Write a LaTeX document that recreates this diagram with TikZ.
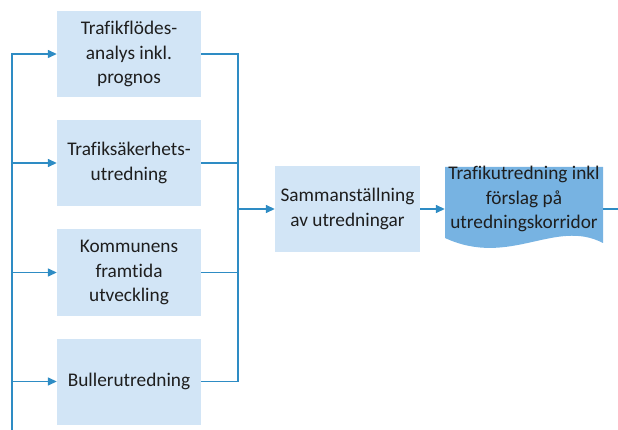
\documentclass[tikz,border=0pt]{standalone}
\usepackage{fontspec}
\setmainfont{Carlito}[Ligatures=NoCommon]
\usepackage{tikz}
\usetikzlibrary{arrows.meta,backgrounds}

\definecolor{boxblue}{HTML}{D2E5F6}
\definecolor{docblue}{HTML}{77B3E2}
\definecolor{lineblue}{HTML}{2E8CC4}
\definecolor{txtgray}{HTML}{1E1E1E}

\begin{document}
\begin{tikzpicture}[x=1pt,y=-1pt]
        \tikzstyle{every node}=[font=\fontsize{19.3}{24.8}\selectfont, text=txtgray, align=center]
        \tikzstyle{studybox}=[fill=boxblue, minimum width=144pt, minimum height=86pt, inner sep=2pt]
        \tikzstyle{flow}=[draw=lineblue, line width=1.4pt]
        \tikzstyle{flowarrow}=[flow, -{Triangle[length=9pt,width=8pt]}]

        \useasboundingbox (0,0) rectangle (618,430);

        \node   (trafik)   [studybox] at (129,54)    {Trafikflödes-\\analys inkl.\\prognos};
        \node   (sakerhet) [studybox] at (129,163)   {Trafiksäkerhets-\\utredning};
        \node   (kommun)   [studybox] at (129,272.5) {Kommunens\\framtida\\utveckling};
        \node   (buller)   [studybox] at (129,381.5) {Bullerutredning};
        \node   (samman)   [studybox, minimum width=145pt] at (347.5,209) {Sammanställning\\av utredningar};
        \node   (result)   [minimum width=158pt, inner sep=0pt] at (524,199) {Trafikutredning inkl\\förslag på\\utredningskorridor};

        % wavy document shape behind the result
        \begin{pgfonlayer}{background}
            \fill[docblue] (445,167) -- (603,167) -- (603,243)
                .. controls (555,218) and (510,268) .. (445,238) -- cycle;
        \end{pgfonlayer}

        \coordinate (feed)  at (12,430);
        \coordinate (merge) at (238,209);
        \coordinate (out)   at (618,209);

        \draw[flowarrow] (feed) |- (trafik.west);
        \draw[flowarrow] (feed) |- (sakerhet.west);
        \draw[flowarrow] (feed) |- (kommun.west);
        \draw[flowarrow] (feed) |- (buller.west);

        \draw[flow] (trafik.east)   -| (merge);
        \draw[flow] (sakerhet.east) -| (merge);
        \draw[flow] (kommun.east)   -| (merge);
        \draw[flow] (buller.east)   -| (merge);

        \draw[flowarrow] (merge) -- (samman.west);
        \draw[flowarrow] (samman.east) -- (samman.east -| result.west);
        \draw[flow] (result.east |- out) -- (out);

    \end{tikzpicture}
\end{document}
